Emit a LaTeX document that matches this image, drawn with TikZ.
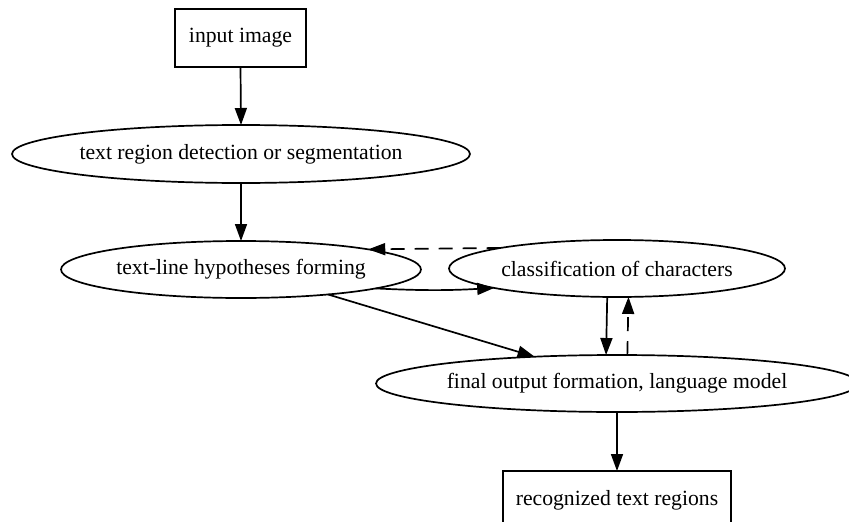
\documentclass[tikz,border=0pt]{standalone}
\usepackage{fontspec}
\setmainfont{Liberation Serif}
\usetikzlibrary{arrows.meta,shapes.geometric}
\begin{document}
\begin{tikzpicture}[x=1pt,y=-1pt,
  stage/.style={draw, line width=1.7pt, inner sep=0pt, outer sep=0pt,
                font=\fontsize{21.7}{26}\selectfont},
  boxnode/.style={stage, rectangle},
  ovalnode/.style={stage, ellipse},
  flow/.style={line width=1.7pt, -{Triangle[length=17pt,width=12pt]}},
  feedback/.style={flow, dash pattern=on 14pt off 10pt}]
% canvas (nodes at the right and bottom edges are cut off)
\clip (0,0) rectangle (849,522);
\fill[white] (0,0) rectangle (849,522);

% pipeline stages
\node[boxnode, minimum width=131pt, minimum height=58pt] (input) at (240.5,38) {input image};
\node[ovalnode, minimum width=458pt, minimum height=58pt] (detect) at (241,154) {text region detection or segmentation};
\node[ovalnode, minimum width=360pt, minimum height=57pt] (lines) at (241,269.5) {text-line hypotheses forming};
\node[ovalnode, minimum width=336pt, minimum height=57pt] (classify) at (617,268.5) {classification of characters};
\node[ovalnode, minimum width=482pt, minimum height=57pt] (final) at (617,383.5) {final output formation, language model};
\node[boxnode, minimum width=228pt, minimum height=58pt] (result) at (617,500) {recognized text regions};

% main flow
\draw[flow] (input.south) -- (detect.north);
\draw[flow] (detect.south) -- (lines.north);
\draw[flow] (lines.-8.4) to[bend right=3] (classify.-171.1);
\draw[flow] (lines.-16.3) -- (final.162.1);
\draw[flow] (classify.-109.3) -- (final.111.1);
\draw[flow] (final.south) -- (result.north);

% feedback loops
\draw[feedback] (classify.170.5) -- (lines.9.3);
\draw[feedback] (final.70.7) -- (classify.-68.9);
\end{tikzpicture}
\end{document}
